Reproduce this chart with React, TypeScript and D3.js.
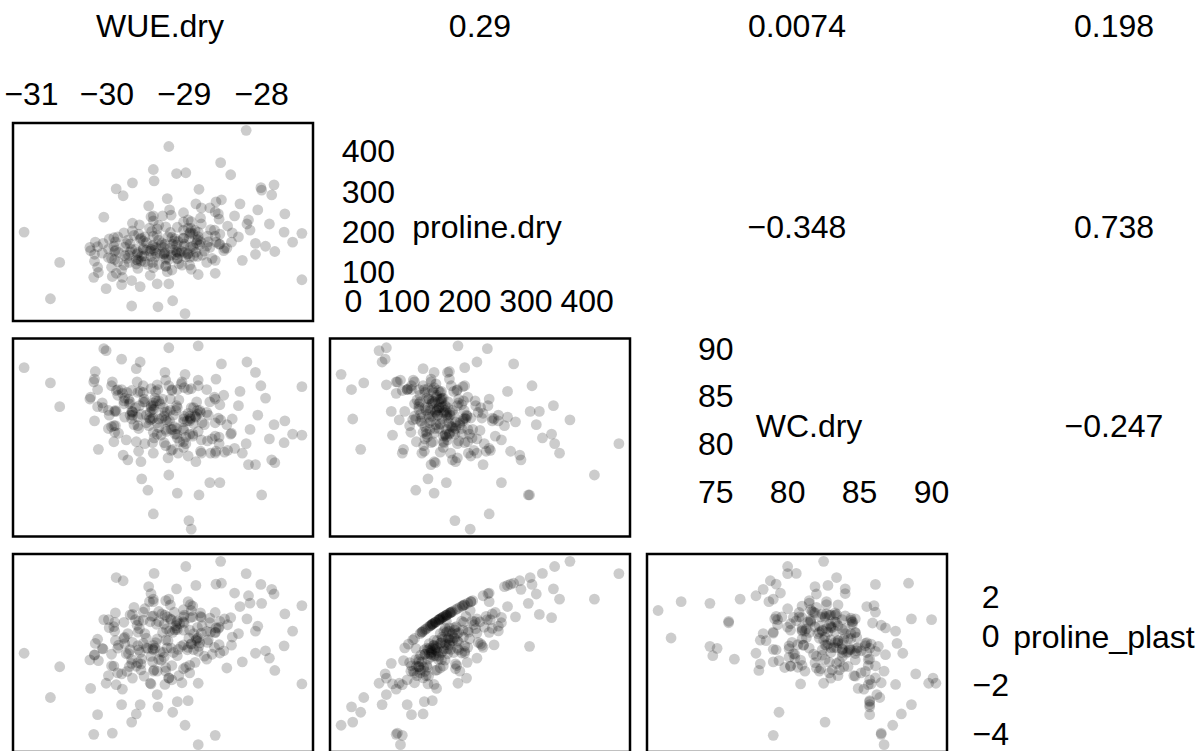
import React from "react";
import * as d3 from "d3";

// variable names, in panel order
const varNames = ["WUE.dry", "proline.dry", "WC.dry", "proline_plast"];

// one value per plant, same order in every array
const wueDry = [
  -29.72, -28.89, -29.86, -29.33, -28.95, -29.39, -28.59, -29.9, -28.38, -29.53,
  -29.06, -30.05, -29.01, -28.91, -29.56, -29.38, -29.9, -28.61, -29.1, -29.56,
  -28.83, -29.61, -28.79, -30.22, -29.24, -29.35, -28.85, -29.25, -29.58, -28.64,
  -29.98, -28.82, -29.71, -29.13, -28.56, -29.43, -29.01, -29.88, -29.09, -29.49,
  -28.6, -29.6, -29.75, -28.78, -29.36, -29.97, -29.03, -28.48, -29.4, -29.17,
  -29.4, -29.01, -29.98, -29.0, -29.59, -29.4, -28.79, -29.28, -28.74, -29.77,
  -29.01, -29.51, -28.44, -30.16, -29.0, -28.6, -29.24, -29.53, -29.78, -28.39,
  -29.22, -29.37, -29.21, -28.83, -28.95, -29.85, -29.53, -29.07, -29.35, -28.71,
  -29.26, -28.85, -29.74, -28.82, -29.63, -28.54, -29.6, -29.29, -28.78, -30.06,
  -29.18, -28.93, -29.42, -29.89, -28.71, -29.19, -29.1, -29.16, -29.77, -28.8,
  -29.8, -28.89, -29.89, -29.2, -29.24, -28.55, -29.31, -29.43, -29.73, -28.93,
  -28.92, -29.4, -30.16, -28.59, -29.25, -29.49, -29.09, -28.66, -29.68, -29.12,
  -29.35, -28.77, -29.67, -29.41, -29.78, -28.93, -28.49, -29.33, -29.59, -29.01,
  -29.7, -29.04, -29.44, -29.45, -28.98, -29.91, -28.67, -29.41, -28.55, -29.6,
  -29.08, -29.46, -29.52, -28.88, -29.18, -29.94, -29.3, -29.11, -29.33, -28.7,
  -29.68, -29.14, -29.57, -28.6, -29.17, -30.12, -29.26, -28.86, -29.62, -28.84,
  -29.43, -29.65, -29.16, -28.69, -29.23, -29.22, -29.7, -29.01, -29.91, -28.88,
  -28.92, -29.86, -29.15, -29.44, -28.91, -28.96, -29.51, -29.24, -29.27, -29.94,
  -28.99, -29.34, -29.68, -29.15, -30.73, -30.01, -29.57, -29.81, -30.17, -29.93,
  -28.82, -28.6, -29.2, -29.81, -30.12, -29.62, -29.09, -28.95, -30.21, -31.07,
  -30.61, -30.04, -28.82, -29.67, -27.48, -27.48, -28.2, -29.2, -29.4, -29.39,
  -29.1, -28.98, -28.53, -28.4, -28.01, -27.84, -27.87, -29.88, -29.79, -29.67,
  -27.7, -27.71, -27.83, -28.08, -28.08, -28.0, -28.81, -28.91, -28.94, -29.4,
  -29.09, -28.54, -28.67, -29.47, -30.11, -28.19, -28.52, -30.15, -29.55, -28.17,
  -28.25, -28.3, -28.15, -28.05, -27.95, -27.6, -28.35, -27.9, -28.45, -28.28,
];

const prolineDry = [
  142, 165, 188, 120, 210, 155, 175, 132, 198, 160,
  148, 172, 225, 108, 185, 138, 152, 205, 168, 128,
  180, 145, 235, 162, 115, 192, 150, 170, 218, 135,
  158, 200, 125, 178, 245, 140, 165, 98, 212, 155,
  190, 130, 172, 260, 147, 183, 118, 160, 228, 143,
  168, 205, 137, 150, 195, 112, 176, 240, 153, 163,
  185, 127, 215, 145, 170, 250, 133, 157, 198, 175,
  102, 162, 188, 140, 230, 150, 178, 122, 208, 166,
  145, 270, 135, 182, 158, 195, 110, 173, 220, 148,
  160, 138, 202, 176, 125, 255, 152, 187, 142, 168,
  88, 196, 155, 132, 213, 170, 146, 238, 180, 118,
  163, 190, 128, 275, 150, 174, 135, 206, 157, 184,
  72, 143, 222, 166, 118, 197, 154, 180, 134, 248,
  171, 153, 93, 210, 139, 186, 162, 125, 232, 149,
  177, 265, 141, 160, 199, 113, 168, 144, 217, 190,
  80, 156, 182, 130, 242, 164, 147, 204, 121, 173,
  158, 192, 106, 176, 137, 283, 151, 185, 165, 140,
  200, 127, 170, 153, 226, 145, 188, 116, 162, 135,
  -2, 15, 17, 30, 35, 60, 65, 70, 88, 90,
  95, 98, 72, 106, 113, 132, 134, 147, 154, 200,
  125, 237, 189, 203, 197, 82, 452, 412, 355, 327,
  345, 347, 372, 342, 310, 317, 292, 307, 290, 322,
  245, 200, 152, 145, 172, 304, 306, 209, 184, 240,
  150, 170, 260, 120, 100, 220, 280, 175, 140, 230,
  130, 188, 205, 255, 165, 175, 240, 220, 160, 270,
];

const wcDry = [
  84.7, 80.8, 85.7, 82.6, 78.7, 83.6, 86.8, 81.2, 82.6, 85.4,
  80.2, 83.8, 81.4, 85.8, 78.1, 84.8, 83.4, 84.9, 81.0, 83.1,
  83.5, 86.5, 79.2, 84.7, 82.5, 82.2, 78.1, 83.3, 84.0, 80.5,
  81.6, 86.1, 84.2, 81.8, 82.7, 85.8, 79.6, 85.6, 80.6, 83.0,
  84.7, 82.8, 80.4, 80.4, 84.5, 83.0, 86.5, 79.1, 82.7, 81.5,
  84.0, 80.2, 83.5, 85.9, 81.6, 81.2, 83.3, 84.7, 82.0, 84.8,
  82.3, 84.4, 79.3, 86.8, 82.9, 80.8, 79.8, 84.4, 84.5, 81.1,
  83.4, 85.5, 78.5, 83.1, 83.2, 81.1, 86.1, 84.6, 81.0, 83.3,
  80.1, 82.8, 85.4, 81.3, 83.8, 84.1, 81.9, 82.7, 79.0, 84.3,
  84.7, 81.0, 82.6, 81.9, 85.7, 82.4, 81.6, 85.6, 82.8, 83.5,
  85.3, 81.0, 83.5, 86.1, 81.5, 80.7, 84.2, 84.0, 78.3, 82.9,
  82.6, 84.3, 82.4, 79.2, 87.5, 82.2, 83.8, 79.0, 85.6, 81.0,
  86.2, 82.2, 83.3, 80.1, 84.2, 82.4, 85.1, 81.7, 79.2, 82.6,
  83.0, 86.3, 82.5, 82.7, 80.7, 81.9, 84.4, 83.6, 80.0, 85.4,
  79.0, 81.9, 84.7, 82.1, 83.5, 86.1, 80.9, 83.5, 84.5, 80.3,
  83.4, 83.0, 85.5, 82.2, 79.3, 83.9, 82.9, 82.9, 80.2, 84.4,
  83.8, 82.0, 85.7, 83.0, 81.3, 82.3, 84.4, 81.6, 80.2, 83.8,
  82.7, 85.1, 81.5, 83.3, 83.8, 82.4, 80.0, 86.7, 83.8, 81.8,
  87.3, 85.7, 82.6, 79.4, 86.4, 89.8, 88.6, 88.9, 86.5, 86.5,
  86.7, 79.0, 90.1, 85.7, 85.7, 87.9, 85.7, 85.7, 84.9, 88.0,
  83.9, 90.0, 90.3, 83.0, 86.0, 80.9, 80.0, 76.7, 79.0, 80.6,
  84.0, 80.0, 82.5, 81.0, 86.1, 82.0, 78.3, 83.4, 78.8, 83.4,
  82.4, 80.1, 78.0, 77.8, 87.5, 74.6, 74.6, 71.0, 71.9, 72.6,
  74.8, 75.9, 75.9, 75.1, 79.4, 88.6, 88.4, 87.6, 76.3, 77.8,
  79.0, 84.0, 81.5, 83.0, 84.8, 81.0, 79.5, 80.5, 82.0, 85.5,
];

const prolinePlast = [
  -0.71, 0.78, -0.49, -0.95, 1.4, -1.38, 0.33, 0.2, -0.04, -0.3,
  0.5, -0.52, 0.58, -0.33, -1.13, -0.49, 0.56, -0.46, 0.32, -1.38,
  -0.2, 0.44, 0.8, -0.97, -0.16, -1.43, -0.17, 0.85, 0.3, -0.74,
  0.67, -0.62, -1.24, 0.97, 0.31, -1.95, 0.78, -1.98, 0.62, -0.48,
  0.14, 0.16, -0.72, 0.76, 0.48, 0.34, -1.9, 0.7, -0.38, -0.49,
  0.82, 0.24, -1.61, 0.53, 0.61, -1.43, 0.94, 0.15, -0.82, -0.05,
  -1.33, 0.1, 0.46, -0.76, 0.85, 0.96, -1.28, 0.65, 0.56, -0.37,
  -0.48, -0.27, -0.19, 0.35, -0.46, -0.37, 0.97, -1.61, -0.12, 0.19,
  -0.86, 2.06, -1.44, -0.07, 0.67, -0.69, -1.08, 0.9, 0.12, -0.5,
  0.7, -1.19, 0.8, 0.94, -0.94, 0.21, 0.56, -1.2, -0.31, -0.28,
  -2.16, 1.22, -0.18, -1.7, 1.44, -0.35, -0.64, 1.73, 0.1, -1.5,
  0.75, -0.56, -0.78, 2.11, -1.97, -0.09, 0.26, 0.16, -0.95, 0.25,
  -2.38, 0.41, -0.26, -0.51, -0.1, 0.24, -0.6, 1.0, -0.56, -0.36,
  0.86, -0.42, -1.92, 1.4, -1.27, 0.38, 0.73, -1.04, 0.36, -0.39,
  -0.54, 2.01, -1.63, 0.1, 1.27, -1.21, -0.98, 0.42, 0.59, -0.26,
  -1.11, -0.67, -0.67, 0.16, 0.67, -0.13, 0.48, -1.07, -1.23, -0.1,
  -0.83, 1.17, -1.78, -0.16, 0.29, 0.78, -0.55, 1.07, -1.22, -0.55,
  1.28, -1.5, 0.15, 0.58, -0.31, -0.56, 1.11, -1.43, -0.67, -0.74,
  -3.63, -2.88, -3.5, -3.1, -2.5, -1.92, -2.79, -1.54, -4.0, -3.95,
  -4.42, -4.04, -1.71, -2.79, -3.2, -3.17, -2.67, -2.63, -2.13, -0.7,
  -1.25, 0.67, -1.92, -1.71, 1.24, -1.95, 2.54, 1.5, 1.5, 2.55,
  1.92, 2.83, 3.04, 0.75, 2.1, 1.71, 1.9, 2.38, 2.25, 0.88,
  0.9, -0.4, -1.4, -0.7, 0.2, 1.33, -0.42, 1.04, -0.08, 1.4,
  -0.8, 0.6, 0.54, -0.5, -1.0, 0.7, 2.15, -0.3, -0.94, 1.64,
  -1.05, 0.1, 1.34, 0.4, -0.6, 0.2, 1.75, -0.9, -1.3, 1.2,
];

// correlations shown in the upper panels, row by row
const corrValues = [0.29, 0.0074, 0.198, -0.348, 0.738, -0.247];

// tick labels drawn inside the diagonal panels
const wueTicks = [-31, -30, -29, -28];
const prolineTicks = [0, 100, 200, 300, 400];
const wcTicks = [75, 80, 85, 90];
const plastTicks = [2, 0, -2, -4];

const W = 1199;
const H = 751;
const cellW = 300;
const cellH = 198;
const colX = (j: number) => 13 + j * 317;
const rowY = (i: number) => -92.5 + i * 215.5;
const labelY = [26, 227, 426, 637];
const diagLabelX = [160, 487, 809, 1104];
const font = "'Liberation Sans', Arial, Helvetica, sans-serif";
const fontSize = 32;

const fmt = (v: number) => String(v).replace("-", "\u2212");

// R style range: data extent stretched by 4% on each side
const padded = (arr: number[]) => {
  const [lo, hi] = d3.extent(arr) as [number, number];
  const r = hi - lo;
  return [lo - 0.04 * r, hi + 0.04 * r];
};

export default function App() {
  const cols = [wueDry, prolineDry, wcDry, prolinePlast];
  const xs = cols.map((c, k) =>
    d3.scaleLinear().domain(padded(c)).range([colX(k), colX(k) + cellW])
  );
  const ys = cols.map((c, k) =>
    d3.scaleLinear().domain(padded(c)).range([rowY(k) + cellH, rowY(k)])
  );

  // where the tick labels of each diagonal panel sit (nudged where R pushed them inside)
  const diagAxes = [
    { x: wueTicks, y: [] as number[], yDx: 0, xDy: -1, firstDx: 2, topDy: 0 },
    { x: prolineTicks, y: prolineTicks.slice(1).reverse(), yDx: 26, xDy: -12, firstDx: 11, topDy: 0 },
    { x: wcTicks, y: wcTicks.slice(1).reverse(), yDx: 0, xDy: 1, firstDx: 0, topDy: 0 },
    { x: [] as number[], y: plastTicks, yDx: 0, xDy: 0, firstDx: 0, topDy: 10 },
  ];

  const textProps = {
    fontFamily: font,
    fontSize,
    textAnchor: "middle" as const,
    dominantBaseline: "central" as const,
    fill: "#000",
  };

  const panels: React.ReactNode[] = [];
  let ci = 0;
  for (let i = 0; i < 4; i++) {
    for (let j = 0; j < 4; j++) {
      if (i > j) {
        panels.push(
          <g key={`p${i}${j}`}>
            {cols[j].map((v, n) => (
              <circle
                key={n}
                cx={xs[j](v)}
                cy={ys[i](cols[i][n])}
                r={5.4}
                fill="rgba(0,0,0,0.2)"
              />
            ))}
            <rect
              x={colX(j)}
              y={rowY(i)}
              width={cellW}
              height={cellH}
              fill="none"
              stroke="#000"
              strokeWidth={2.5}
            />
          </g>
        );
      } else if (i < j) {
        panels.push(
          <text key={`c${i}${j}`} x={colX(j) + cellW / 2} y={labelY[i]} {...textProps}>
            {fmt(corrValues[ci++])}
          </text>
        );
      } else {
        const ax = diagAxes[i];
        const all = ax.x.concat(ax.y);
        const lo = d3.min(all) as number;
        const hi = d3.max(ax.y) as number;
        const yLabX = xs[i](lo) + ax.yDx;
        const xLabY = ys[i](lo) + ax.xDy;
        panels.push(
          <g key={`d${i}`}>
            <text x={diagLabelX[i]} y={labelY[i]} {...textProps}>
              {varNames[i]}
            </text>
            {ax.y.map((t) => (
              <text
                key={`y${t}`}
                x={yLabX}
                y={ys[i](t) + (t === hi ? ax.topDy : 0)}
                {...textProps}
              >
                {fmt(t)}
              </text>
            ))}
            {ax.x.map((t, k) => (
              <text
                key={`x${t}`}
                x={xs[i](t) + (k === 0 ? ax.firstDx : 0)}
                y={xLabY}
                {...textProps}
              >
                {fmt(t)}
              </text>
            ))}
          </g>
        );
      }
    }
  }

  return (
    <div style={{ position: "fixed", left: 0, top: 0, width: W, height: H, background: "#fff" }}>
      <svg width={W} height={H} style={{ display: "block" }}>
        <rect width={W} height={H} fill="#fff" />
        {panels}
      </svg>
    </div>
  );
}
